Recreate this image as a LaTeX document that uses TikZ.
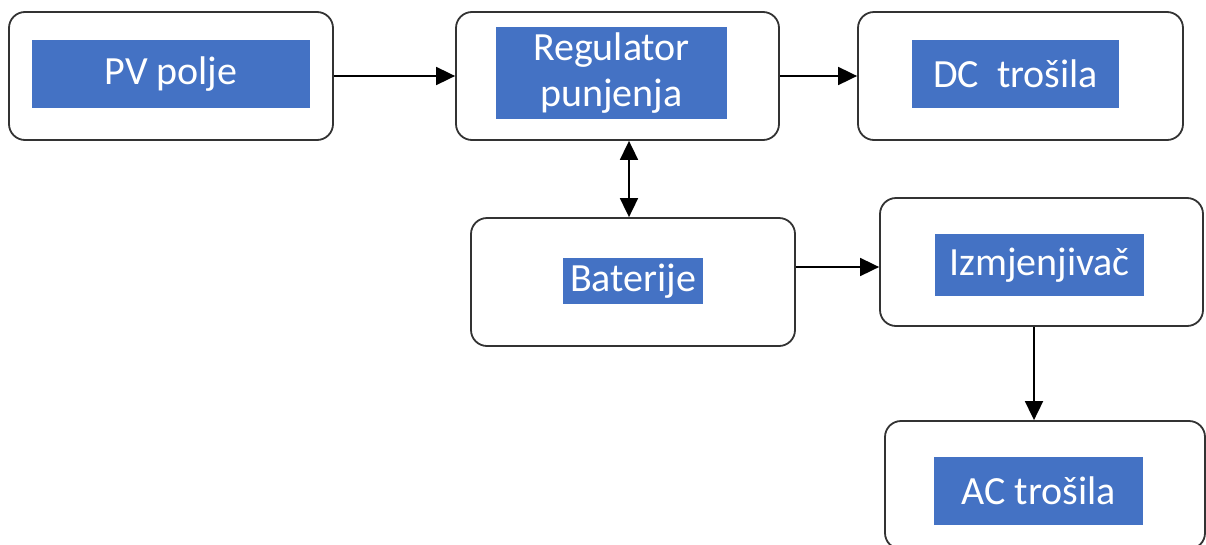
\documentclass[tikz,border=0pt]{standalone}
\usepackage{fontspec}
\setmainfont{Carlito}
\usetikzlibrary{arrows.meta}
\definecolor{boxblue}{HTML}{4472C4}
\definecolor{edge}{HTML}{333333}
\tikzset{
  outer/.style={draw=edge, line width=1.8pt, rounded corners=16pt, fill=white, inner sep=0pt},
  label/.style={fill=boxblue, text=white, inner sep=0pt, align=center,
    font=\fontsize{40}{46}\selectfont},
  conn/.style={line width=1.8pt, draw=black, -{Triangle[length=19pt,width=18pt]}},
  conn2/.style={line width=1.8pt, draw=black, {Triangle[length=19pt,width=18pt]}-{Triangle[length=19pt,width=18pt]}}
}
\begin{document}
\begin{tikzpicture}[x=1pt,y=-1pt]
\useasboundingbox (0,0) rectangle (1206,544);
\fill[white] (0,0) rectangle (1206,544);
\node[outer, minimum width=324pt, minimum height=128pt] (pvo) at (171,76) {};
\node[label, minimum width=278pt, minimum height=68pt] (pv) at (171,74) {PV polje};
\node[outer, minimum width=323pt, minimum height=128pt] (rego) at (617.5,76) {};
\node[label, minimum width=231pt, minimum height=92pt] (reg) at (611.5,73) {Regulator\\punjenja};
\node[outer, minimum width=325pt, minimum height=128pt] (dco) at (1020.5,76) {};
\node[label, minimum width=207pt, minimum height=68pt] (dc) at (1015.5,74) {DC\ \ trošila};
\node[outer, minimum width=324pt, minimum height=128pt] (bato) at (633,282) {};
\node[label, minimum width=140pt, minimum height=46pt] (bat) at (633,281) {Baterije};
\node[outer, minimum width=323pt, minimum height=128pt] (izmo) at (1041.5,262) {};
\node[label, minimum width=209pt, minimum height=62pt] (izm) at (1039.5,265) {Izmjenjivač};
\node[outer, minimum width=320pt, minimum height=128pt] (aco) at (1045,485) {};
\node[label, minimum width=209pt, minimum height=68pt] (ac) at (1038.5,491) {AC trošila};
\coordinate (rb) at (629,0);
\coordinate (bi) at (0,267);
\coordinate (ia) at (1034,0);
\draw[conn] (pvo.east) -- (rego.west);
\draw[conn] (rego.east) -- (dco.west);
\draw[conn2] (rego.south -| rb) -- (bato.north -| rb);
\draw[conn] (bato.east |- bi) -- (izmo.west |- bi);
\draw[conn] (izmo.south -| ia) -- (aco.north -| ia);
\end{tikzpicture}
\end{document}
